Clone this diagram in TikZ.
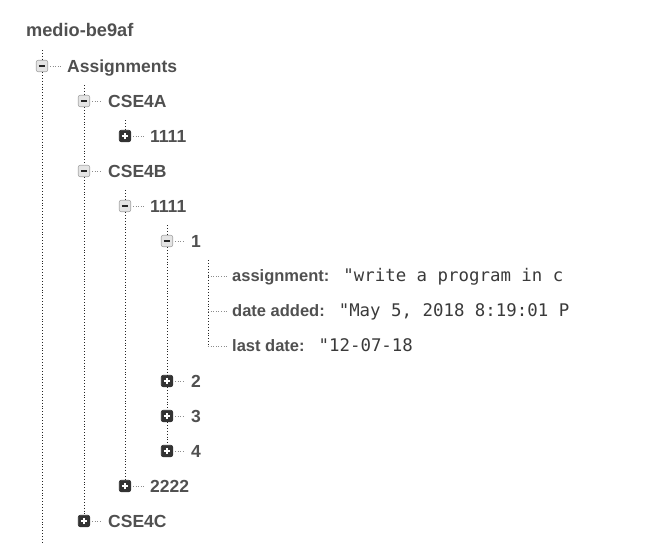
\documentclass[tikz,border=0pt]{standalone}
\usepackage{fontspec}
\setmainfont{Liberation Sans}
\setmonofont{DejaVu Sans Mono}
\usetikzlibrary{positioning}
\definecolor{treegray}{HTML}{505050}
\definecolor{valgray}{HTML}{3A3A3A}
\definecolor{boxdark}{HTML}{333333}
\definecolor{boxlight}{HTML}{E4E4E4}
\newcommand{\keyval}[2]{{\bfseries #1}\hspace{14pt}{\ttfamily\fontsize{17.4}{17.4}\selectfont\color{valgray}#2}}

\begin{document}
\begin{tikzpicture}[x=1pt,y=-1pt,
  tog/.style={rounded corners=2pt,minimum size=11.5pt,inner sep=0pt,line width=0.6pt},
  minusbox/.style={tog,draw=black!35,fill=boxlight,
    path picture={\draw[line width=1.8pt,black!85]
      ([xshift=-3.2pt]path picture bounding box.center) --
      ([xshift=3.2pt]path picture bounding box.center);}},
  plusbox/.style={tog,draw=boxdark,fill=boxdark,
    path picture={\draw[line width=1.8pt,white]
      ([xshift=-3.2pt]path picture bounding box.center) --
      ([xshift=3.2pt]path picture bounding box.center)
      ([yshift=-3.2pt]path picture bounding box.center) --
      ([yshift=3.2pt]path picture bounding box.center);}},
  lbl/.style={anchor=west,inner sep=0pt,text=treegray,
    font=\bfseries\fontsize{17.5}{17.5}\selectfont,text height=12.5pt,text depth=0pt},
  leaf/.style={anchor=west,inner sep=0pt,text=treegray,
    font=\fontsize{16.5}{16.5}\selectfont,text height=11.8pt,text depth=0pt},
  vline/.style={dotted,line width=0.9pt,black!85},
  hlink/.style={dotted,line width=0.6pt,black!45,shorten <=2pt,shorten >=6pt}]
\useasboundingbox (0,0) rectangle (650,543);
% ---------------- root and first level
\node[lbl,font=\bfseries\fontsize{18.2}{18.2}\selectfont] (root) at (26,30) {medio-be9af};
\node[minusbox] (tAs) at (42,66) {};
\node[lbl] (lAs) at (67,66) {Assignments};
\coordinate (r0) at (42,50);
\coordinate (r1) at (42,543);
\draw[vline] (r0) -- (tAs) -- (r1);
% ---------------- classes
\node[minusbox] (tA) at (84,101) {};
\node[minusbox] (tB) at (84,171) {};
\node[plusbox]  (tC) at (84,521) {};
\node[lbl] (lA) at (108,101) {CSE4A};
\node[lbl] (lB) at (108,171) {CSE4B};
\node[lbl] (lC) at (108,521) {CSE4C};
\coordinate (s0) at (84,85);
\draw[vline] (s0) -- (tA) -- (tB) -- (tC);
% ---------------- groups
\node[plusbox]  (tA1) at (125,136) {};
\node[minusbox] (tB1) at (125,206) {};
\node[plusbox]  (tB2) at (125,486) {};
\node[lbl] (lA1) at (150,136) {1111};
\node[lbl] (lB1) at (150,206) {1111};
\node[lbl] (lB2) at (150,486) {2222};
\coordinate (g0) at (125,120);
\coordinate (g1) at (125,190);
\draw[vline] (g0) -- (tA1);
\draw[vline] (g1) -- (tB1) -- (tB2);
% ---------------- tasks
\node[minusbox] (n1) at (167,241) {};
\node[lbl] (m1) at (191,241) {1};
\foreach \n/\y in {2/381,3/416,4/451} {
  \node[plusbox] (n\n) at (167,\y) {};
  \node[lbl] (m\n) at (191,\y) {\n};
}
\coordinate (q0) at (167,225);
\draw[vline] (q0) -- (n1) -- (n2) -- (n3) -- (n4);
% ---------------- fields of task 1
\coordinate (k0) at (208,260);
\coordinate (k1) at (208,276);
\coordinate (k2) at (208,311);
\coordinate (k3) at (208,346);
\node[leaf] (f1) at (232,276) {\keyval{assignment:}{"write a program in c}};
\node[leaf] (f2) at (232,311) {\keyval{date added:}{"May 5, 2018 8:19:01 P}};
\node[leaf] (f3) at (232,346) {\keyval{last date:}{"12-07-18}};
\draw[vline] (k0) -- (k3);
\foreach \k/\f in {k1/f1,k2/f2,k3/f3}
  \draw[hlink,shorten <=0pt,shorten >=4pt] (\k) -- (\f);
% ---------------- connectors from toggles to labels
\foreach \t/\l in {tAs/lAs,tA/lA,tB/lB,tC/lC,tA1/lA1,tB1/lB1,tB2/lB2,
                   n1/m1,n2/m2,n3/m3,n4/m4}
  \draw[hlink] (\t) -- (\l);
\end{tikzpicture}
\end{document}
